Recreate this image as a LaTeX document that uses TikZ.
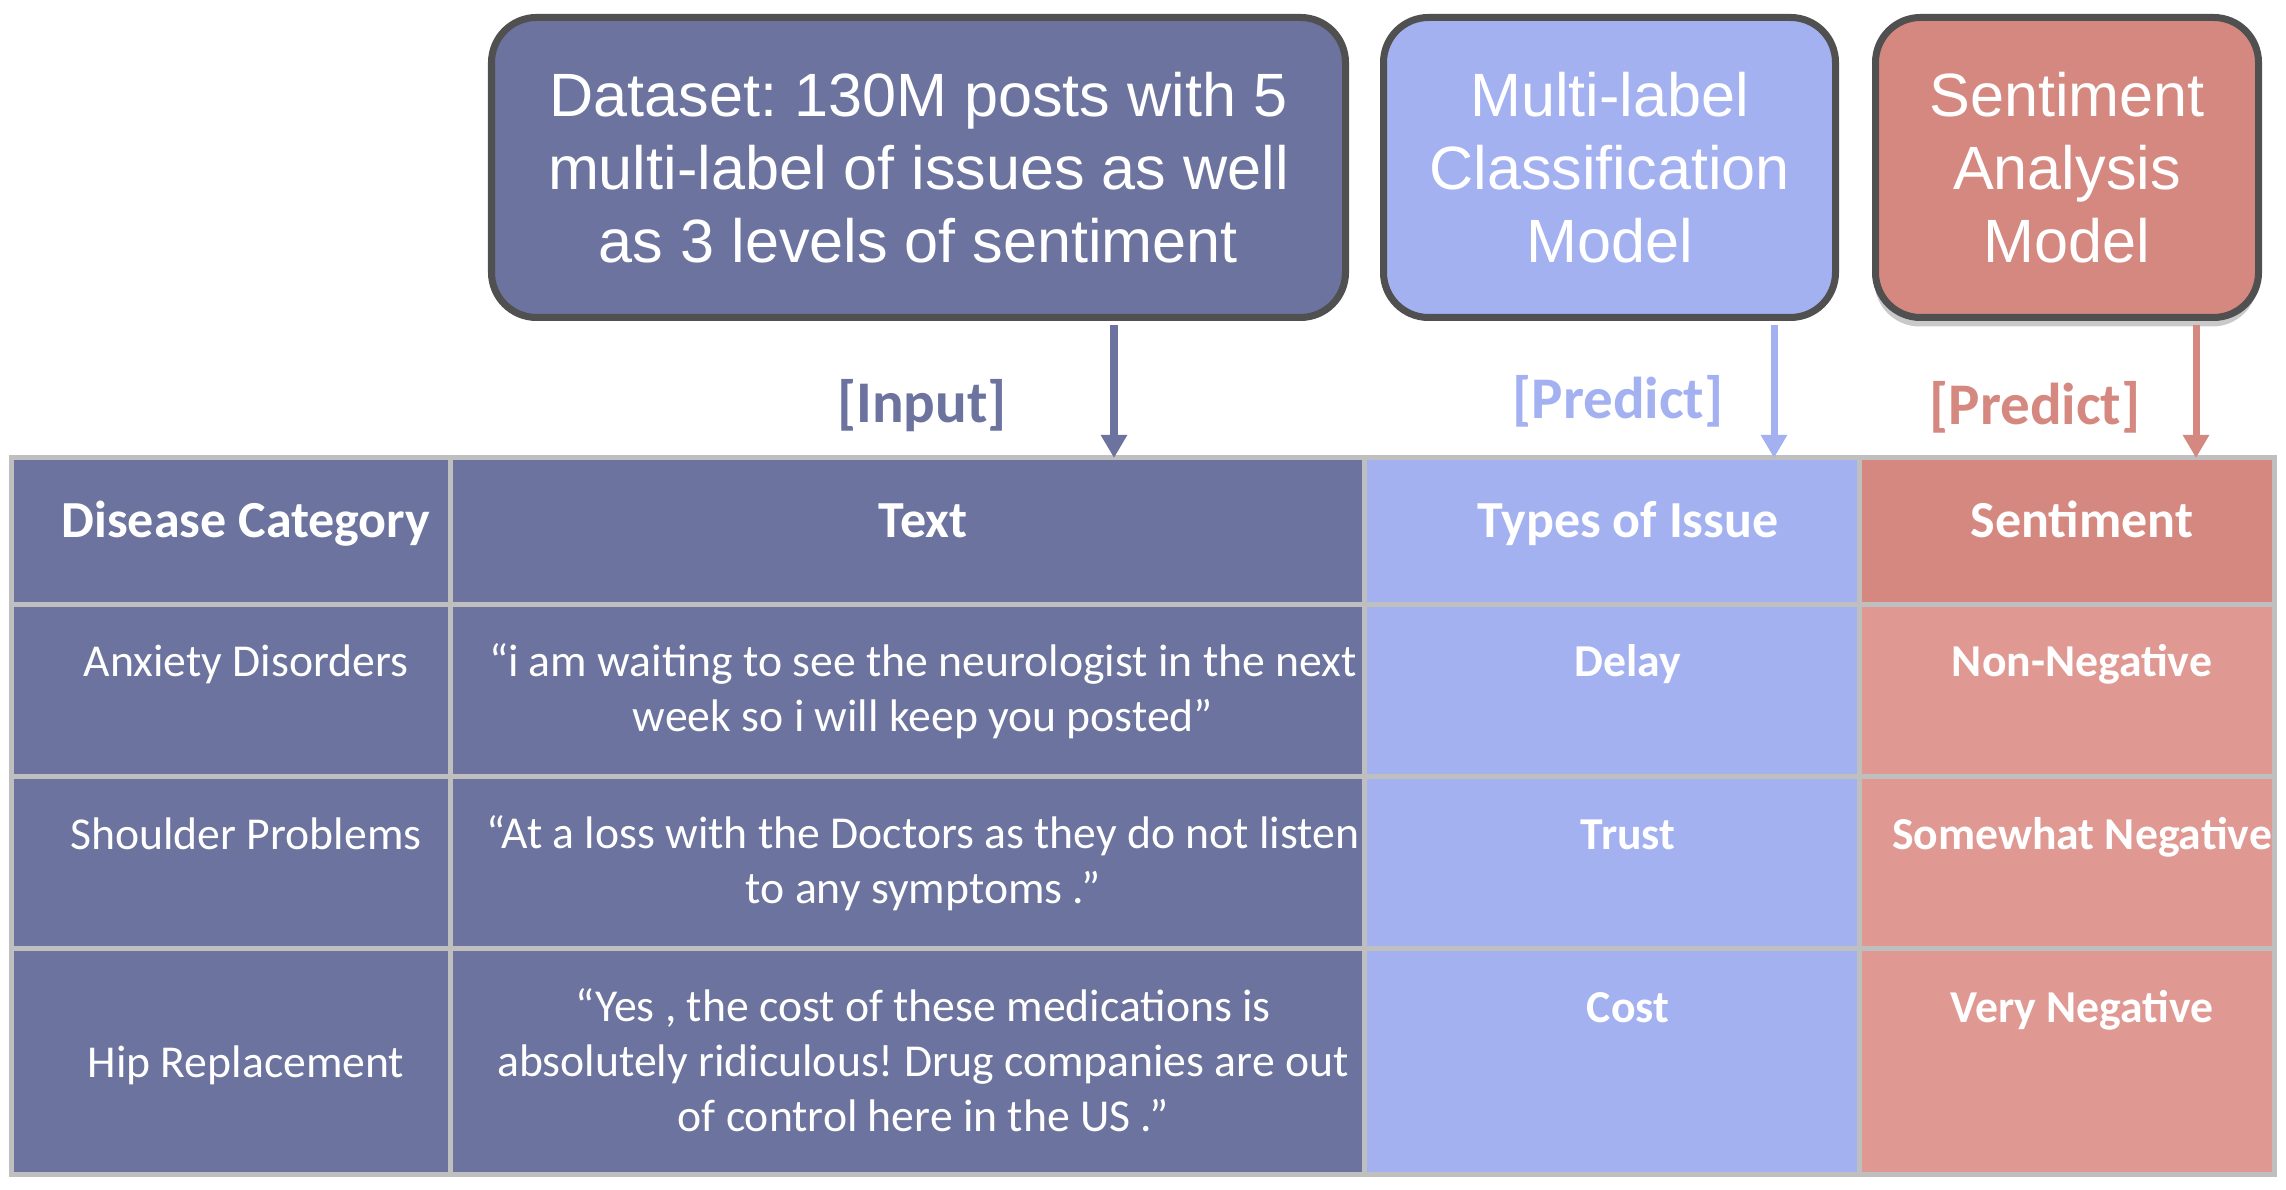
\documentclass[tikz,border=0pt]{standalone}
\usepackage{fontspec}
\setmainfont{Carlito}
\newfontfamily\arialfont{Liberation Sans}
\usetikzlibrary{arrows.meta,shadows}
\definecolor{dkblue}{HTML}{6B739E}
\definecolor{ltblue}{HTML}{A3B1F0}
\definecolor{dkred}{HTML}{D58880}
\definecolor{ltred}{HTML}{E09892}
\definecolor{gridgray}{HTML}{BFBFBF}
\definecolor{boxgray}{HTML}{505050}
\frenchspacing

\begin{document}
\begin{tikzpicture}[
  model/.style={draw=boxgray,line width=2pt,rounded corners=0.45cm,minimum height=3cm,inner sep=0pt,text=white,align=center,font=\arialfont\fontsize{17.4}{20.8}\selectfont},
  tag/.style={anchor=base,font=\bfseries\fontsize{16.8}{20}\selectfont},
  head/.style={anchor=base,text=white,font=\bfseries\fontsize{14.8}{17.8}\selectfont},
  cell/.style={anchor=base,text=white,align=center,font=\fontsize{13}{15.65}\selectfont},
  boldcell/.style={cell,font=\bfseries\fontsize{13}{15.65}\selectfont},
  grid/.style={draw=gridgray,line width=0.05cm},
  flow/.style={-{Triangle[width=0.25cm,length=0.23cm]},line width=2pt}
]
\useasboundingbox (0,0) rectangle (22.86,11.90);

% table
\fill[dkblue] (0.11,0.15) rectangle (13.645,7.32);
\fill[ltblue] (13.645,0.15) rectangle (18.595,7.32);
\fill[ltred] (18.595,0.15) rectangle (22.74,5.855);
\fill[dkred] (18.595,5.855) rectangle (22.74,7.32);
\draw[grid] (0.11,0.15) rectangle (22.74,7.32);
\foreach \x in {4.50,13.645,18.595} \draw[grid] (\x,0.15) -- (\x,7.32);
\foreach \y in {5.855,4.13,2.41} \draw[grid] (0.11,\y) -- (22.74,\y);

\node[head] (hcat) at (2.46,6.52) {Disease Category};
\node[head] (htext) at (9.23,6.52) {Text};
\node[head] (hissue) at (16.28,6.52) {Types of Issue};
\node[head] (hsent) at (20.82,6.52) {Sentiment};

% multi-line cells sit on their last line
\node[cell] (cat1) at (2.46,5.13) {Anxiety Disorders};
\node[cell] (cat2) at (2.46,3.405) {Shoulder Problems};
\node[cell] (cat3) at (2.46,1.12) {Hip Replacement};
\node[cell] (text1) at (9.23,4.58) {“i am waiting to see the neurologist in the next\\week so i will keep you posted”};
\node[cell] (text2) at (9.23,2.86) {“At a loss with the Doctors as they do not listen\\to any symptoms .”};
\node[cell] (text3) at (9.23,0.585) {“Yes , the cost of these medications is\\absolutely ridiculous! Drug companies are out\\of control here in the US .”};
\node[boldcell] (issue1) at (16.28,5.13) {Delay};
\node[boldcell] (issue2) at (16.28,3.405) {Trust};
\node[boldcell] (issue3) at (16.28,1.675) {Cost};
\node[boldcell] (sent1) at (20.82,5.13) {Non-Negative};
\node[boldcell] (sent2) at (20.82,3.405) {Somewhat Negative};
\node[boldcell] (sent3) at (20.82,1.675) {Very Negative};

% models
\node[model,fill=dkblue,minimum width=8.54cm] (dataset) at (9.185,10.225) {Dataset: 130M posts with 5\\multi-label of issues as well\\as 3 levels of sentiment};
\node[model,fill=ltblue,minimum width=4.52cm] (mlc) at (16.095,10.225) {Multi-label\\Classification\\Model};
\node[model,fill=dkred,minimum width=3.83cm,drop shadow={shadow xshift=-0.01cm,shadow yshift=-0.09cm,opacity=0.3,fill=black!70}] (sam) at (20.67,10.225) {Sentiment\\Analysis\\Model};

\coordinate (inend) at (11.14,7.32);
\coordinate (issueend) at (17.74,7.32);
\coordinate (sentend) at (21.96,7.32);
\draw[flow,dkblue] ([yshift=-1pt]dataset.south -| inend) -- (inend);
\draw[flow,ltblue] ([yshift=-1pt]mlc.south -| issueend) -- (issueend);
\draw[flow,dkred] ([yshift=-1pt]sam.south -| sentend) -- (sentend);

\node[tag,text=dkblue] (input) at (9.22,7.67) {[Input]};
\node[tag,text=ltblue] (predict1) at (16.18,7.71) {[Predict]};
\node[tag,text=dkred] (predict2) at (20.35,7.65) {[Predict]};
\end{tikzpicture}
\end{document}
